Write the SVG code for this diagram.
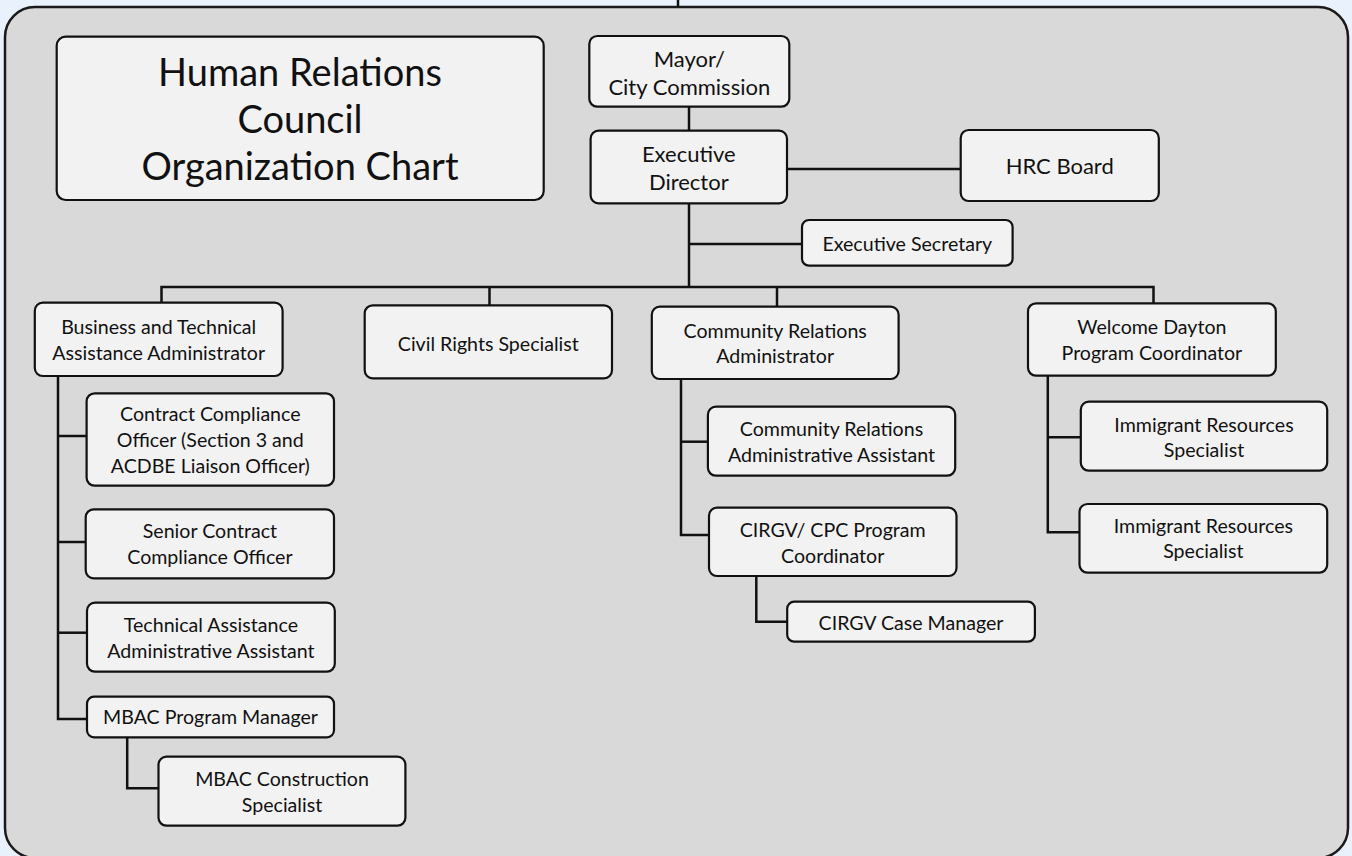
<svg xmlns="http://www.w3.org/2000/svg" width="1352" height="856" viewBox="0 0 1352 856">
<style>
.bg{fill:#e9f1fc}
.panel{fill:#d9d9d9;stroke:#1a1a1a;stroke-width:2.5}
.box{fill:#f2f2f2;stroke:#111;stroke-width:2.2}
.c{fill:none;stroke:#111;stroke-width:2.5}
text{font-family:Lato,"Liberation Sans",sans-serif;fill:#111;text-anchor:middle}
.t{font-size:38px}
.l{font-size:22px}
.s{font-size:19.6px}
</style>
<rect class="bg" x="0" y="0" width="1352" height="856"/>
<rect class="panel" x="5" y="7" width="1343" height="851" rx="30" ry="30"/>
<g id="connectors">
<path class="c" d="M678 0V7"/>
<path class="c" d="M689 107V131"/>
<path class="c" d="M787 169H961"/>
<path class="c" d="M689 203V287"/>
<path class="c" d="M689 244H802"/>
<path class="c" d="M161.5 303V287H1153.5V303"/>
<path class="c" d="M489.5 287V305"/>
<path class="c" d="M777 287V307"/>
<path class="c" d="M58 376V719H87"/>
<path class="c" d="M58 436H86.6"/>
<path class="c" d="M58 542H85.7"/>
<path class="c" d="M58 632.7H87"/>
<path class="c" d="M127.2 737V788.3H158.5"/>
<path class="c" d="M681 379V535H709"/>
<path class="c" d="M681 441.7H708"/>
<path class="c" d="M756.3 576V621.7H787.2"/>
<path class="c" d="M1047.8 376V532.3H1079.5"/>
<path class="c" d="M1047.8 437.3H1080.8"/>
</g>
<g id="title">
<rect class="box" x="56.7" y="36.7" width="487" height="163.3" rx="9"/>
<text class="t" x="300" y="86">Human Relations</text>
<text class="t" x="300" y="133">Council</text>
<text class="t" x="300" y="180">Organization Chart</text>
</g>
<g id="mayor">
<rect class="box" x="589.3" y="36" width="200" height="70.7" rx="8"/>
<text class="l" x="689.3" y="66.7">Mayor/</text>
<text class="l" x="689.3" y="95">City Commission</text>
</g>
<g id="exec-director">
<rect class="box" x="590.6" y="130.7" width="196.4" height="72.6" rx="8"/>
<text class="l" x="688.8" y="161.7">Executive</text>
<text class="l" x="688.8" y="190">Director</text>
</g>
<g id="hrc-board">
<rect class="box" x="960.7" y="130" width="198.1" height="71" rx="8"/>
<text class="l" x="1059.7" y="174">HRC Board</text>
</g>
<g id="exec-secretary">
<rect class="box" x="802" y="220" width="210.6" height="45.7" rx="7"/>
<text class="s" x="907.3" y="250.7">Executive Secretary</text>
</g>
<g id="business-admin">
<rect class="box" x="34.8" y="302.7" width="247.8" height="73.3" rx="8"/>
<text class="s" x="158.7" y="334">Business and Technical</text>
<text class="s" x="158.7" y="360">Assistance Administrator</text>
</g>
<g id="civil-rights">
<rect class="box" x="364.7" y="305.3" width="247.3" height="73" rx="8"/>
<text class="s" x="488.3" y="350.7">Civil Rights Specialist</text>
</g>
<g id="community-admin">
<rect class="box" x="651.8" y="306.7" width="246.8" height="72.3" rx="8"/>
<text class="s" x="775.2" y="338.3">Community Relations</text>
<text class="s" x="775.2" y="363.3">Administrator</text>
</g>
<g id="welcome-dayton">
<rect class="box" x="1028" y="303.3" width="247.8" height="72.4" rx="8"/>
<text class="s" x="1151.9" y="334">Welcome Dayton</text>
<text class="s" x="1151.9" y="360">Program Coordinator</text>
</g>
<g id="contract-compliance">
<rect class="box" x="86.6" y="393.3" width="247.4" height="92.4" rx="8"/>
<text class="s" x="210.3" y="420.7">Contract Compliance</text>
<text class="s" x="210.3" y="446.7">Officer (Section 3 and</text>
<text class="s" x="210.3" y="472.7">ACDBE Liaison Officer)</text>
</g>
<g id="senior-contract">
<rect class="box" x="85.7" y="509.3" width="248.3" height="69" rx="8"/>
<text class="s" x="209.9" y="538.3">Senior Contract</text>
<text class="s" x="209.9" y="564.3">Compliance Officer</text>
</g>
<g id="technical-assistant">
<rect class="box" x="87" y="602.7" width="247.8" height="69" rx="8"/>
<text class="s" x="210.9" y="631.7">Technical Assistance</text>
<text class="s" x="210.9" y="657.7">Administrative Assistant</text>
</g>
<g id="mbac-manager">
<rect class="box" x="87" y="696.7" width="247" height="40.6" rx="7"/>
<text class="s" x="210.5" y="724.3">MBAC Program Manager</text>
</g>
<g id="mbac-construction">
<rect class="box" x="158.5" y="756.7" width="246.9" height="69" rx="8"/>
<text class="s" x="282" y="785.7">MBAC Construction</text>
<text class="s" x="282" y="811.7">Specialist</text>
</g>
<g id="community-assistant">
<rect class="box" x="707.9" y="406.7" width="247.3" height="69" rx="8"/>
<text class="s" x="831.5" y="436">Community Relations</text>
<text class="s" x="831.5" y="461.7">Administrative Assistant</text>
</g>
<g id="cirgv-coordinator">
<rect class="box" x="709" y="507.7" width="247.5" height="68.3" rx="8"/>
<text class="s" x="832.7" y="537.3">CIRGV/ CPC Program</text>
<text class="s" x="832.7" y="562.7">Coordinator</text>
</g>
<g id="cirgv-case-manager">
<rect class="box" x="787.2" y="601.7" width="247.7" height="40" rx="7"/>
<text class="s" x="911" y="630">CIRGV Case Manager</text>
</g>
<g id="immigrant-1">
<rect class="box" x="1080.8" y="401.7" width="246.4" height="69" rx="8"/>
<text class="s" x="1204" y="431.7">Immigrant Resources</text>
<text class="s" x="1204" y="456.7">Specialist</text>
</g>
<g id="immigrant-2">
<rect class="box" x="1079.5" y="504" width="247.7" height="68.7" rx="8"/>
<text class="s" x="1203.4" y="533.3">Immigrant Resources</text>
<text class="s" x="1203.4" y="558.3">Specialist</text>
</g>
</svg>
